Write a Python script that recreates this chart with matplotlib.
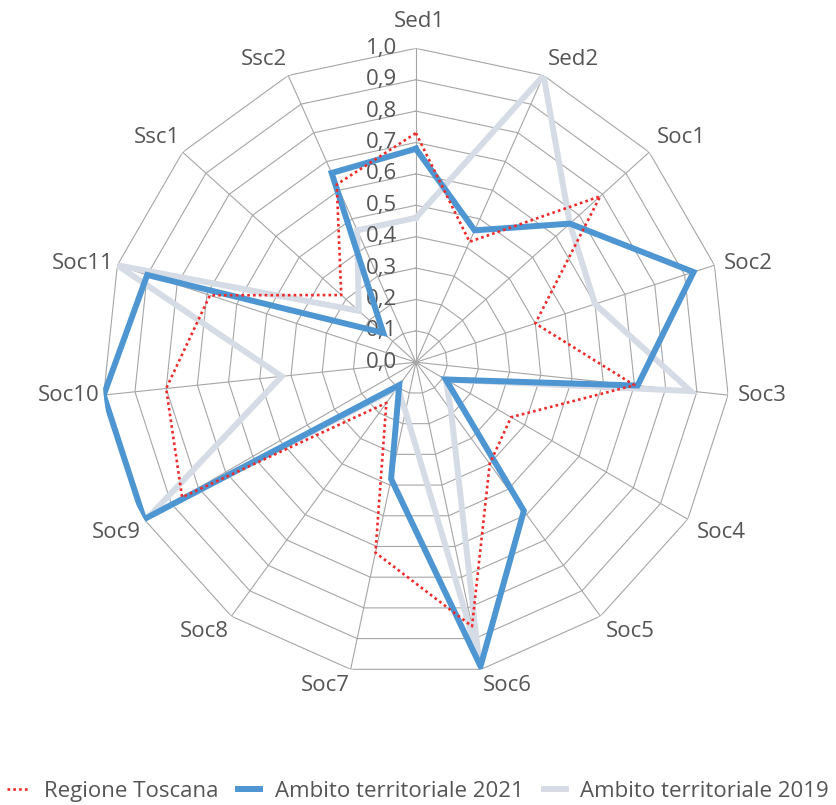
import numpy as np
import matplotlib
matplotlib.use('Agg')
import matplotlib.pyplot as plt

plt.rcParams['font.family'] = ['Open Sans', 'DejaVu Sans']

categories = ['Sed1', 'Sed2', 'Soc1', 'Soc2', 'Soc3', 'Soc4', 'Soc5', 'Soc6',
              'Soc7', 'Soc8', 'Soc9', 'Soc10', 'Soc11', 'Ssc1', 'Ssc2']
regione = [0.73, 0.42, 0.79, 0.40, 0.70, 0.35, 0.40, 0.86, 0.62, 0.16, 0.86, 0.80, 0.69, 0.32, 0.62]
ambito_2021 = [0.68, 0.46, 0.66, 0.93, 0.71, 0.11, 0.585, 0.99, 0.38, 0.09, 1.0, 1.0, 0.90, 0.14, 0.66]
ambito_2019 = [0.46, 1.0, 0.66, 0.60, 0.88, 0.11, 0.19, 0.96, 0.16, 0.10, 0.98, 0.43, 1.0, 0.245, 0.46]
rticks = [0.0, 0.1, 0.2, 0.3, 0.4, 0.5, 0.6, 0.7, 0.8, 0.9, 1.0]

txt = '#555555'
grid_c = '#a6a6a6'
fs = 16

n = len(categories)
theta = np.arange(n) * 2 * np.pi / n
theta_c = np.append(theta, theta[0])

def closed(v):
    return list(v) + [v[0]]

fig = plt.figure(figsize=(8.36, 8.05), dpi=100)
ax = fig.add_axes([0.122, 0.160, 0.751, 0.780], projection='polar')
ax.set_theta_offset(np.pi / 2)
ax.set_theta_direction(-1)
ax.set_ylim(0, 1)
ax.grid(False)
ax.spines['polar'].set_visible(False)
ax.set_xticks([])
ax.set_yticks([])
ax.patch.set_alpha(0)

# griglia poligonale tipo Excel
for r in rticks[1:]:
    ax.plot(theta_c, [r] * len(theta_c), color=grid_c, lw=0.8, zorder=0)
for t in theta:
    ax.plot([t, t], [0, 1], color=grid_c, lw=0.8, zorder=0)

# etichette asse radiale
for r in rticks:
    ax.annotate(f'{r:.1f}'.replace('.', ','), xy=(0, r), xytext=(-19, 0),
                textcoords='offset pixels', ha='right', va='center',
                fontsize=fs, color=txt)

# etichette categorie
for t, lab in zip(theta, categories):
    s, c = np.sin(t), np.cos(t)
    ha = 'center' if abs(s) < 0.1 else ('left' if s > 0 else 'right')
    va = 'center' if abs(c) < 0.4 else ('bottom' if c > 0 else 'top')
    if lab == 'Sed1':
        dx, dy = 3, 16
    else:
        d = 10 if s > 0 else 4
        dx, dy = d * s, 6 * c
    ax.annotate(lab, xy=(t, 1.0), xytext=(dx, dy), textcoords='offset pixels',
                ha=ha, va=va, fontsize=fs, color=txt, annotation_clip=False)

ax.plot(theta_c, closed(ambito_2019), color='#d6dce5', lw=4.3, zorder=2,
        solid_joinstyle='miter', label='Ambito territoriale 2019')
ax.plot(theta_c, closed(ambito_2021), color='#4e96d2', lw=4.3, zorder=3,
        solid_joinstyle='miter', label='Ambito territoriale 2021')
ax.plot(theta_c, closed(regione), color='#ee2a2a', lw=1.9, ls=(0, (1, 1.2)), zorder=4,
        label='Regione Toscana')

h, l = ax.get_legend_handles_labels()
order = [2, 1, 0]
fig.legend([h[i] for i in order], [l[i] for i in order], loc='lower center',
           bbox_to_anchor=(0.5, -0.021), ncol=3, frameon=False, fontsize=fs,
           handlelength=1.0, handletextpad=0.65, columnspacing=0.9,
           labelcolor=txt)

fig.savefig('out.png', dpi=100)
